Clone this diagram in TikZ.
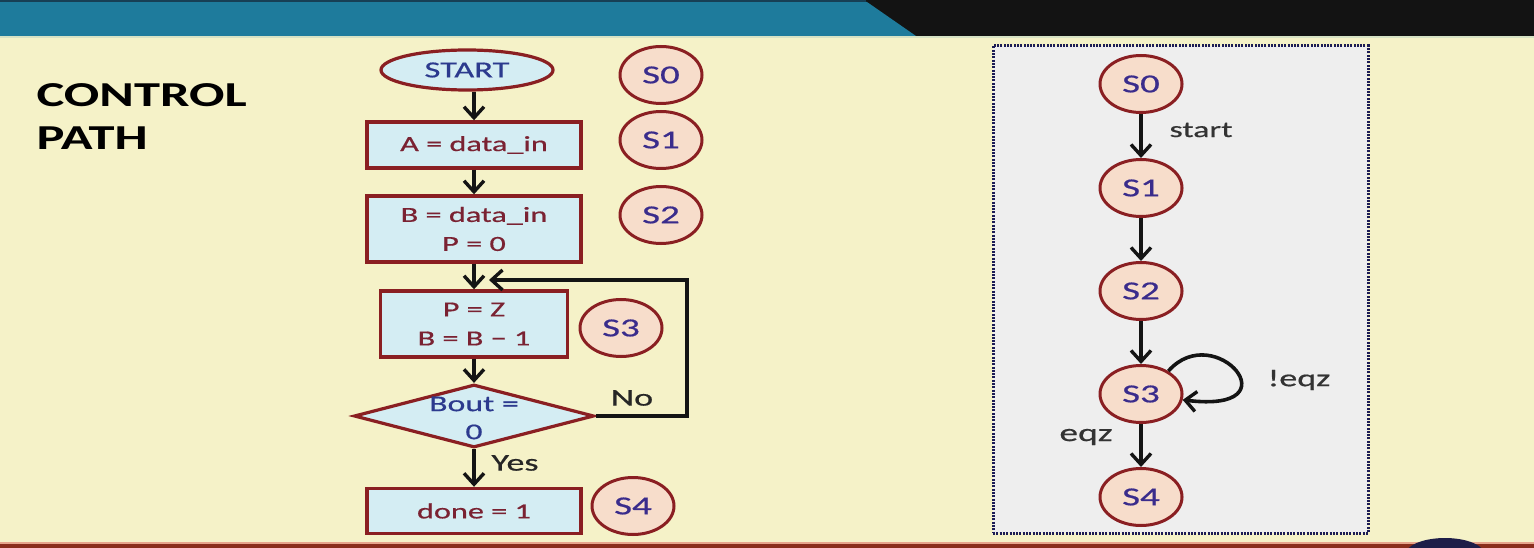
\documentclass[tikz,border=0pt]{standalone}
\usepackage{fontspec}
\setmainfont{Carlito}[FakeStretch=1.5, UprightFeatures={FakeBold=0.6}]
\usetikzlibrary{shapes.geometric,arrows.meta}
\definecolor{bg}{HTML}{F5F2C8}
\definecolor{topteal}{HTML}{1E7B9C}
\definecolor{topdark}{HTML}{131313}
\definecolor{topedge}{HTML}{173F55}
\definecolor{topline}{HTML}{D6E2C4}
\definecolor{botline}{HTML}{E7A58C}
\definecolor{botbar}{HTML}{8A2E1C}
\definecolor{blob}{HTML}{1E1E48}
\definecolor{fbord}{HTML}{8A1F22}
\definecolor{fboxfill}{HTML}{D4EDF3}
\definecolor{stfill}{HTML}{F7DDCB}
\definecolor{sttext}{HTML}{3A2C8C}
\definecolor{boxtext}{HTML}{7A2232}
\definecolor{starttext}{HTML}{2C3A8E}
\definecolor{lbltext}{HTML}{333333}
\definecolor{panelfill}{HTML}{EEEEEE}
\definecolor{panelborder}{HTML}{1C1C55}
\tikzset{
  fbox/.style={rectangle, draw=fbord, fill=fboxfill, line width=3.4pt, inner sep=0pt,
    minimum width=214pt, text=boxtext, font=\fontsize{21.5}{29}\selectfont, align=center},
  st/.style={ellipse, draw=fbord, fill=stfill, line width=3pt, minimum width=82pt,
    minimum height=57pt, inner sep=0pt, text=sttext, font=\fontsize{26}{30}\selectfont},
  arr/.style={line width=3.6pt, draw=black!92, line join=miter,
    -{Straight Barb[length=11pt,width=20pt,line width=3.4pt]}},
  lbl/.style={font=\fontsize{24}{28}\selectfont},
}
\begin{document}
\begin{tikzpicture}[x=1pt,y=-1pt]
\useasboundingbox (0,0) rectangle (1534,548);
% background
\fill[bg] (0,0) rectangle (1534,548);
\fill[topdark] (0,0) rectangle (1534,37);
\fill[topteal] (0,2) -- (867,2) -- (916,36) -- (0,36) -- cycle;
\fill[topedge] (0,0) rectangle (866,2.5);
\fill[topline] (0,36) rectangle (1534,38.5);
\fill[botline] (0,541.5) rectangle (1534,544);
\fill[botbar] (0,544) rectangle (1534,548);
\fill[blob] (1445,555) ellipse [x radius=40, y radius=17];
% title
\node[anchor=base west, font=\bfseries\fontsize{35}{40}\selectfont] (t1) at (33,107) {CONTROL};
\node[anchor=base west, font=\bfseries\fontsize{35}{40}\selectfont] (t2) at (33,150) {PATH};
% flowchart
\node[ellipse, draw=fbord, fill=fboxfill, line width=3.2pt, minimum width=172pt,
  minimum height=40pt, inner sep=0pt, text=starttext, font=\fontsize{23}{26}\selectfont]
  (start) at (467,70) {START};
\node[fbox, minimum height=46pt] (a) at (474,145) {A = data\_in};
\node[fbox, minimum height=66pt] (b) at (474,229) {B = data\_in\\P = 0};
\node[fbox, minimum width=187pt, minimum height=66pt] (p) at (474,324) {P = Z\\B = B − 1};
\node[diamond, draw=fbord, fill=fboxfill, line width=3.2pt, minimum width=240pt,
  minimum height=63pt, inner sep=0pt] (d) at (474,416) {};
\node[text=starttext, font=\fontsize{22.5}{28}\selectfont, align=center] (dt) at (474,418) {Bout =\\0};
\node[fbox, minimum height=45pt] (done) at (474,511) {done = 1};
\node[st] (f0) at (661,75) {S0};
\node[st] (f1) at (661,140) {S1};
\node[st] (f2) at (661,215) {S2};
\node[st] (f3) at (621,328) {S3};
\node[st] (f4) at (633,506) {S4};
\draw[arr] (start.south -| a.north) -- (a.north);
\draw[arr] (a.south) -- (b.north);
\draw[arr] (b.south) -- (p.north);
\draw[arr] (p.south) -- (d.north);
\draw[arr] (d.south) -- (done.north);
\coordinate (lc) at (687,280);
\coordinate (lend) at (489,280);
\draw[arr] (d.east) -| (lc) -- (lend);
\node[lbl, text=black!85] (no) at (632,398) {No};
\node[lbl, text=black!85] (yes) at (515,463) {Yes};
% right panel
\node[rectangle, draw=panelborder, fill=panelfill, line width=3pt,
  dash pattern=on 2pt off 1.3pt, minimum width=375pt, minimum height=487pt, inner sep=0pt]
  (panel) at (1180.5,289.5) {};
\node[st] (r0) at (1141,84) {S0};
\node[st] (r1) at (1141,188) {S1};
\node[st] (r2) at (1141,291) {S2};
\node[st] (r3) at (1141,394) {S3};
\node[st] (r4) at (1141,497) {S4};
\draw[arr] (r0.south) -- (r1.north);
\draw[arr] (r1.south) -- (r2.north);
\draw[arr] (r2.south) -- (r3.north);
\draw[arr] (r3.south) -- (r4.north);
\draw[arr] (r3.40) .. controls (1215,318) and (1297,414) .. (r3.-8);
\node[lbl, text=lbltext, font=\fontsize{22.5}{26}\selectfont] (lstart) at (1201,130) {start};
\node[lbl, text=lbltext] (lneqz) at (1299,380) {!eqz};
\node[lbl, text=lbltext, font=\fontsize{25}{28}\selectfont] (leqz) at (1086,437) {eqz};
\end{tikzpicture}
\end{document}
